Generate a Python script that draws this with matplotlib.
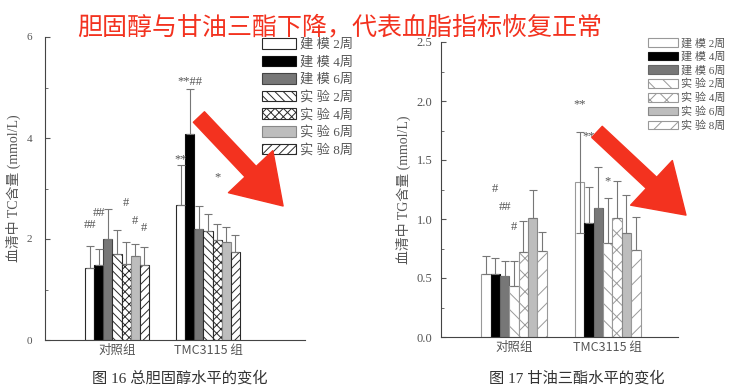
import matplotlib
matplotlib.use("Agg")
import matplotlib.pyplot as plt
import numpy as np
from matplotlib.patches import FancyArrowPatch
from matplotlib.ticker import MultipleLocator

# Data
groups = ["对照组", "TMC3115 组"]
series = ["建 模 2周", "建 模 4周", "建 模 6周", "实 验 2周", "实 验 4周", "实 验 6周", "实 验 8周"]

tc_ctrl = [1.42, 1.48, 2.00, 1.70, 1.50, 1.67, 1.49]
tc_ctrl_sd = [0.45, 0.32, 0.59, 0.47, 0.44, 0.24, 0.35]
tc_tmc = [2.68, 4.07, 2.19, 2.15, 1.98, 1.94, 1.74]
tc_tmc_sd = [0.78, 0.91, 0.47, 0.34, 0.32, 0.29, 0.33]

tg_ctrl = [0.53, 0.53, 0.52, 0.43, 0.72, 1.01, 0.73]
tg_ctrl_sd = [0.16, 0.14, 0.12, 0.21, 0.26, 0.24, 0.16]
tg_tmc = [1.31, 0.97, 1.09, 0.80, 1.01, 0.88, 0.74]
tg_tmc_sd = [0.43, 0.30, 0.35, 0.38, 0.31, 0.32, 0.28]
tg_tmc_sd_low = [0.43, 0, 0, 0, 0, 0, 0]

# significance marks: (group, bar, y, text)
tc_marks = [(0, 0, 2.28, "##"), (0, 1, 2.52, "##"), (0, 4, 2.71, "#"), (0, 5, 2.36, "#"),
            (0, 6, 2.21, "#"), (1, 0, 3.58, "**"), (1, 1, 5.11, "**##"), (1, 4, 3.22, "*")]
tg_marks = [(0, 1, 1.25, "#"), (0, 2, 1.10, "##"), (0, 3, 0.935, "#"),
            (1, 0, 1.97, "**"), (1, 1, 1.70, "**"), (1, 3, 1.32, "*")]

title = "胆固醇与甘油三酯下降，代表血脂指标恢复正常"
cap_tc = "图 16 总胆固醇水平的变化"
cap_tg = "图 17 甘油三酯水平的变化"

SERIF = ["Liberation Serif", "Noto Sans CJK SC"]
SANS = ["Noto Sans CJK SC", "DejaVu Sans"]
plt.rcParams["font.family"] = SERIF
plt.rcParams["hatch.linewidth"] = 0.7


def styles(light):
    edge = "#999999" if light else "#2a2a2a"
    return [
        dict(facecolor="white", edgecolor=edge, hatch=None),
        dict(facecolor="black", edgecolor="#111111", hatch=None),
        dict(facecolor="#777777", edgecolor="#444444" if not light else "#666666", hatch=None),
        dict(facecolor="white", edgecolor=edge, hatch="\\\\" if light else "\\\\\\\\"),
        dict(facecolor="white", edgecolor=edge, hatch="xx" if light else "xxxx"),
        dict(facecolor="#bdbdbd", edgecolor="#888888", hatch=None),
        dict(facecolor="white", edgecolor=edge, hatch="//" if light else "////"),
    ]


def draw_panel(ax, vals, sds, lows, marks, ylim, major, minor, light, ylabel, xlim):
    w = 0.1
    offs = (np.arange(7) - 3) * w
    st = styles(light)
    for i in range(7):
        ys = [vals[0][i], vals[1][i]]
        xs = np.arange(1, 3) + offs[i]
        ax.bar(xs, ys, width=w, linewidth=0.8, label=series[i], zorder=2, **st[i])
        lo = [0, lows[i]]
        ax.errorbar(xs, ys, yerr=[lo, [sds[0][i], sds[1][i]]], fmt="none",
                    ecolor="#777777", elinewidth=0.8, capsize=3, capthick=0.8, zorder=3)
    for g, b, y, t in marks:
        ax.text(g + 1 + offs[b], y, t, ha="center", va="center", fontsize=9,
                color="#555555", zorder=4)
    ax.set_xlim(*xlim)
    ax.set_ylim(*ylim)
    ax.set_xticks([1, 2])
    ax.set_xticklabels(groups, family=SANS, fontsize=10, color="#222222")
    ax.yaxis.set_major_locator(MultipleLocator(major))
    ax.yaxis.set_minor_locator(MultipleLocator(minor))
    ax.tick_params(direction="in", which="both", colors="#555555", labelcolor="#555555",
                   labelsize=9)
    ax.tick_params(axis="x", length=3, pad=3)
    for s in ["top", "right"]:
        ax.spines[s].set_visible(False)
    for s in ["left", "bottom"]:
        ax.spines[s].set_color("#444444")
    ax.set_ylabel(ylabel, fontsize=10, color="#555555", family=SERIF)


fig = plt.figure(figsize=(7.3, 3.92), dpi=100)

ax1 = fig.add_axes([45 / 730, 52 / 392, 260 / 730, 303 / 392])
draw_panel(ax1, [tc_ctrl, tc_tmc], [tc_ctrl_sd, tc_tmc_sd], [0] * 7, tc_marks,
           (0, 6), 2, 1, False, "血清中 TC含量 (mmol/L)", (0.209, 3.066))
ax1.yaxis.set_major_formatter(lambda v, p: f"{v:.0f}")
ax1.tick_params(axis="y", pad=9, labelsize=8)
ax1.legend(loc="upper left", bbox_to_anchor=(262 / 730, 1 - 38 / 392),
           bbox_transform=fig.transFigure, frameon=False, fontsize=9.5,
           handlelength=2.6, handleheight=0.85, labelspacing=0.36, handletextpad=0.3,
           borderpad=0, borderaxespad=0, labelcolor="#555555")

ax2 = fig.add_axes([441 / 730, 55 / 392, 237 / 730, 295 / 392])
draw_panel(ax2, [tg_ctrl, tg_tmc], [tg_ctrl_sd, tg_tmc_sd], tg_tmc_sd_low, tg_marks,
           (0, 2.5), 0.5, 0.25, True, "血清中 TG含量 (mmol/L)", (0.221, 2.75))
ax2.yaxis.set_major_formatter(lambda v, p: f"{v:.1f}")
ax2.tick_params(axis="y", pad=6)
ax2.legend(loc="upper left", bbox_to_anchor=(648 / 730, 1 - 38 / 392),
           bbox_transform=fig.transFigure, frameon=False, fontsize=8,
           handlelength=2.7, handleheight=0.8, labelspacing=0.3, handletextpad=0.3,
           borderpad=0, borderaxespad=0, labelcolor="#555555")

# captions and headline
fig.text(180 / 730, 1 - 378 / 392, cap_tc, ha="center", va="center", fontsize=11,
         color="#333333", family=SERIF)
fig.text(577 / 730, 1 - 378 / 392, cap_tg, ha="center", va="center", fontsize=11,
         color="#333333", family=SERIF)
fig.text(340 / 730, 1 - 27 / 392, title, ha="center", va="center", fontsize=18,
         color="#f3321f", family=SANS, zorder=10)

# red arrows (in inches on the figure)
red = "#f3321f"
for tail, tip in [((197, 277), (285, 184)), ((595, 262), (688, 175))]:
    arr = FancyArrowPatch((tail[0] / 100, tail[1] / 100), (tip[0] / 100, tip[1] / 100),
                          transform=fig.dpi_scale_trans,
                          arrowstyle="simple,head_length=3.4,head_width=4.4,tail_width=1.1",
                          mutation_scale=10, color=red, zorder=10)
    fig.add_artist(arr)

fig.savefig("out.png", dpi=100)
